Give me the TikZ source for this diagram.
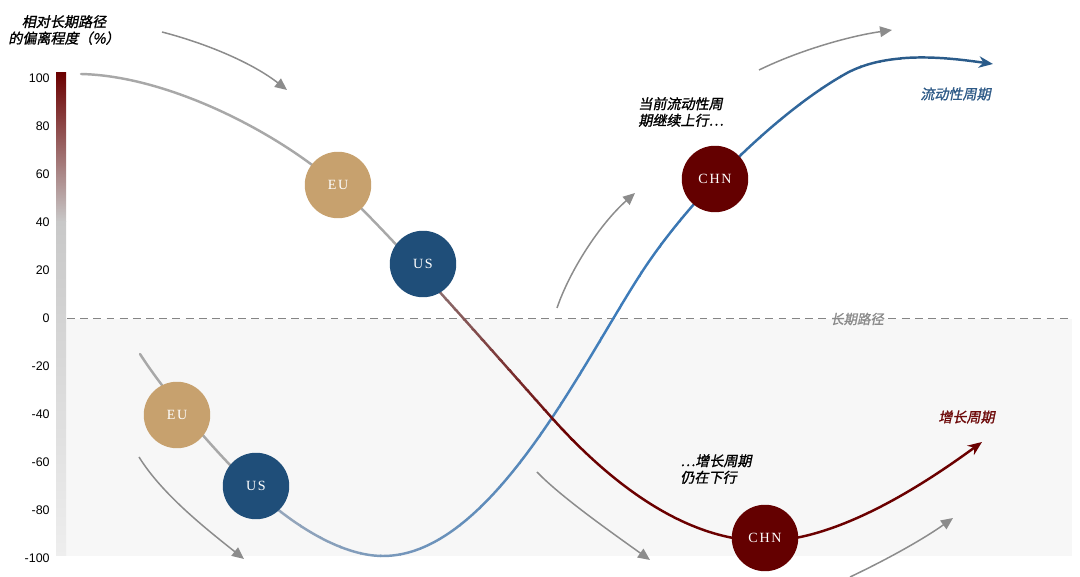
\documentclass[tikz,border=0pt]{standalone}
\usepackage{fontspec}
\setmainfont{Liberation Sans}
\newfontfamily\cjk[FakeSlant=0.2,FakeBold=1.2]{Noto Sans CJK SC}
\newfontfamily\cfont[LetterSpace=12]{Liberation Serif}
\usetikzlibrary{arrows.meta}
\definecolor{bgg}{HTML}{F7F7F7}
\definecolor{eucol}{HTML}{C7A16E}
\definecolor{uscol}{HTML}{1F4E79}
\definecolor{chncol}{HTML}{640000}
\definecolor{linegray}{HTML}{A8A8A8}
\definecolor{redG}{HTML}{8E7272}
\definecolor{redD}{HTML}{6B0000}
\definecolor{blueA}{HTML}{97A7BB}
\definecolor{blueB}{HTML}{3E7CBA}
\definecolor{blueC}{HTML}{2A5B8A}
\definecolor{arrgray}{HTML}{8C8C8C}
\definecolor{dashgray}{HTML}{858585}
\definecolor{bartop}{HTML}{6B0000}
\definecolor{barmid}{HTML}{C8C8C8}
\definecolor{barbot}{HTML}{EEEEEE}
\definecolor{lblblue}{HTML}{2E5A87}
\definecolor{lblred}{HTML}{6E0A0A}
\definecolor{lblgray}{HTML}{8A8A8A}
\def\redpath{(81,74) .. controls (170,76) and (280,134) .. (338,186)
  .. controls (390,233) and (500,360) .. (552,418)
  .. controls (603,475) and (680,541) .. (765,541)
  .. controls (840,541) and (930,480) .. (982,442)}
\def\bluepath{(140,354) .. controls (165,393) and (215,452) .. (253,488)
  .. controls (290,523) and (340,556) .. (383,556)
  .. controls (490,556) and (580,368) .. (640,275)
  .. controls (690,197) and (780,110) .. (847,73)
  .. controls (890,50) and (950,58) .. (993,64)}
\begin{document}
\begin{tikzpicture}[x=0.02cm,y=-0.02cm,
  ball/.style={circle,minimum size=1.33cm,inner sep=0pt,text=white,font=\cfont\fontsize{8}{8}\selectfont},
  cyc/.style={line width=1.4pt,line cap=round},
  hint/.style={draw=arrgray,line width=0.85pt,-{Triangle[length=6.8pt,width=6pt]}},
  axlbl/.style={anchor=east,font=\fontsize{7.1}{8}\selectfont,inner sep=0pt},
  note/.style={font=\cjk\fontsize{8}{9.4}\selectfont,align=left,inner sep=0pt},
  midline/.style={draw=dashgray,line width=0.75pt,dash pattern=on 4.5pt off 3pt},
]
\useasboundingbox (0,0) rectangle (1080,577);
% background of lower half
\fill[bgg] (66,319) rectangle (1072,556);
% long-term path line
\node[font=\cjk\fontsize{7.6}{9}\selectfont,text=lblgray,inner sep=2.5pt] (lp) at (857,319) {长期路径};
\coordinate (dl) at (67,318.5);
\coordinate (dr) at (1072,318.5);
\draw[midline] (dl) -- (lp.west |- dl);
\draw[midline] (lp.east |- dr) -- (dr);
% colour bar
\shade[top color=bartop,bottom color=barmid] (56,73) rectangle (66,222);
\shade[top color=barmid,bottom color=barbot] (56,221.5) rectangle (66,556);
% axis labels
\foreach \v [count=\i from 0] in {100,80,60,40,20,0,-20,-40,-60,-80,-100}{
  \node[axlbl] (ax\i) at (50,78+48*\i) {\v};
}
% blue (liquidity) cycle
\begin{scope}
  \clip (0,0) rectangle (261,577);
  \draw[cyc,draw=linegray] \bluepath;
\end{scope}
\foreach \k in {0,...,17}{
  \pgfmathtruncatemacro{\pc}{\k*100/17}
  \pgfmathsetmacro{\xa}{260+\k*20}
  \begin{scope}
    \clip (\xa,0) rectangle (\xa+21,577);
    \draw[cyc,draw=blueB!\pc!blueA] \bluepath;
  \end{scope}
}
\foreach \k in {0,...,13}{
  \pgfmathtruncatemacro{\pc}{\k*100/13}
  \pgfmathsetmacro{\xa}{620+\k*20}
  \begin{scope}
    \clip (\xa,0) rectangle (\xa+21,577);
    \draw[cyc,draw=blueC!\pc!blueB] \bluepath;
  \end{scope}
}
\begin{scope}
  \clip (900,0) rectangle (1080,577);
  \draw[cyc,draw=blueC,-{Stealth[length=8pt,width=6.5pt,inset=2.5pt]}] \bluepath;
\end{scope}
% red (growth) cycle
\begin{scope}
  \clip (0,0) rectangle (1080,281);
  \draw[cyc,draw=linegray] \redpath;
\end{scope}
\foreach \k in {0,...,15}{
  \pgfmathtruncatemacro{\pc}{\k*100/15}
  \pgfmathsetmacro{\ya}{280+\k*10}
  \begin{scope}
    \clip (0,\ya) rectangle (1080,\ya+11);
    \draw[cyc,draw=redD!\pc!redG] \redpath;
  \end{scope}
}
\begin{scope}
  \clip (0,440) rectangle (1080,577);
  \draw[cyc,draw=redD,-{Stealth[length=8pt,width=6.5pt,inset=2.5pt]}] \redpath;
\end{scope}
% hint arrows
\coordinate (a1s) at (162,32);  \coordinate (a1e) at (287,90);
\coordinate (a2s) at (139,457); \coordinate (a2e) at (244,559);
\coordinate (a3s) at (557,308); \coordinate (a3e) at (635,193);
\coordinate (a4s) at (759,70);  \coordinate (a4e) at (892,30);
\coordinate (a5s) at (537,472); \coordinate (a5e) at (650,560);
\coordinate (a6s) at (850,577); \coordinate (a6e) at (953,518);
\draw[hint] (a1s) .. controls (212,45) and (255,65) .. (a1e);
\draw[hint] (a2s) .. controls (162,494) and (205,528) .. (a2e);
\draw[hint] (a3s) .. controls (570,270) and (600,224) .. (a3e);
\draw[hint] (a4s) .. controls (800,50) and (850,36) .. (a4e);
\draw[hint] (a5s) .. controls (560,496) and (608,530) .. (a5e);
\draw[hint] (a6s) .. controls (890,558) and (925,538) .. (a6e);
% country circles
\node[ball,fill=eucol] (eu1) at (338,185) {EU};
\node[ball,fill=uscol] (us1) at (423,264) {US};
\node[ball,fill=eucol] (eu2) at (177,415) {EU};
\node[ball,fill=uscol] (us2) at (256,486) {US};
\node[ball,fill=chncol] (chn1) at (715,179) {CHN};
\node[ball,fill=chncol] (chn2) at (765,538) {CHN};
% texts
\node[note,align=center] (ttl) at (64,30) {相对长期路径\\的偏离程度（\%）};
\node[note,anchor=west] (t1) at (638,112) {当前流动性周\\期继续上行⋯};
\node[note,anchor=west,text=lblblue] (t2) at (920,94) {流动性周期};
\node[note,anchor=west,text=lblred] (t3) at (938,417) {增长周期};
\node[note,anchor=west] (t4) at (680,469) {⋯增长周期\\仍在下行};
\end{tikzpicture}
\end{document}
